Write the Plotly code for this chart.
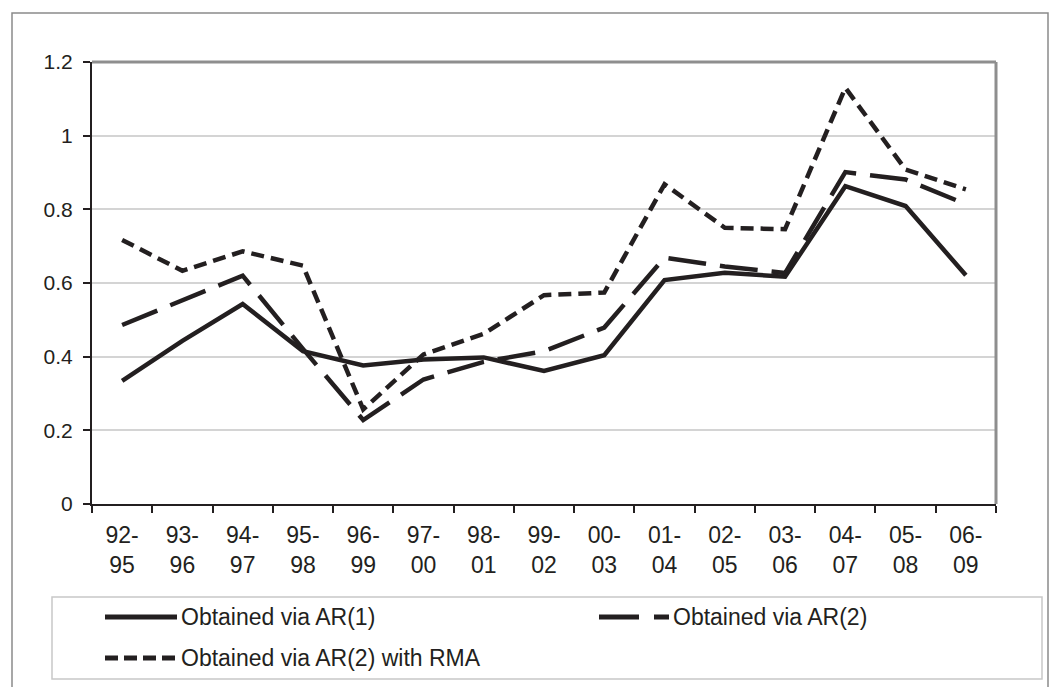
import plotly.graph_objects as go

periods = ["92-95", "93-96", "94-97", "95-98", "96-99", "97-00", "98-01", "99-02",
           "00-03", "01-04", "02-05", "03-06", "04-07", "05-08", "06-09"]
tick_text = [p.replace("-", "-<br>") for p in periods]

ar1 = [0.334, 0.443, 0.543, 0.415, 0.376, 0.392, 0.398, 0.361,
       0.404, 0.608, 0.628, 0.617, 0.863, 0.809, 0.621]
ar2 = [0.486, 0.552, 0.620, 0.421, 0.228, 0.338, 0.386, 0.415,
       0.479, 0.669, 0.645, 0.627, 0.901, 0.881, 0.814]
ar2_rma = [0.717, 0.633, 0.686, 0.647, 0.257, 0.406, 0.462, 0.567,
           0.574, 0.868, 0.750, 0.746, 1.130, 0.908, 0.854]

names = ["Obtained via AR(1)", "Obtained via AR(2)", "Obtained via AR(2) with RMA"]
dashes = ["solid", "38px,14px", "13px,7px"]
legend_dashes = ["solid", "40px,15px", "13px,6px"]

INK = "#231f20"
FONT = "Liberation Sans, Arial, sans-serif"

# page body has an 8px margin, so the figure is drawn that much smaller
OFF = 8
W, H = 1061, 687
# plot area in screen pixels: x 92..996, y 62..504
L, R, T, B = 92, 996, 62, 504


def xp(px):
    return (px - L) / (R - L)


def yp(py):
    return (B - py) / (B - T)


fig = go.Figure()
for name, ys, dash in zip(names, [ar1, ar2, ar2_rma], dashes):
    fig.add_trace(go.Scatter(
        x=periods, y=ys, name=name, mode="lines",
        line=dict(color=INK, width=4.5, dash=dash),
        showlegend=False,
    ))

shapes = [
    # outer chart frame
    dict(type="rect", xref="paper", yref="paper", x0=xp(12), x1=xp(1048),
         y0=yp(700), y1=yp(13), line=dict(color="#8a8a8a", width=1.5)),
    # plot-area top and right border
    dict(type="line", xref="paper", yref="paper", x0=0, x1=1, y0=1, y1=1,
         line=dict(color="#8e8e8e", width=3)),
    dict(type="line", xref="paper", yref="paper", x0=1, x1=1, y0=0, y1=1,
         line=dict(color="#8e8e8e", width=3)),
    # legend box
    dict(type="rect", xref="paper", yref="paper", x0=xp(52), x1=xp(1042),
         y0=yp(679), y1=yp(597), line=dict(color="#c8c8c8", width=1.5)),
]

# hand-made legend to match the long symbol samples
legend_items = [(105, 177, 617), (599, 669, 617), (105, 177, 658)]
annotations = []
for (x0, x1, y), name, dash in zip(legend_items, names, legend_dashes):
    shapes.append(dict(type="line", xref="paper", yref="paper",
                       x0=xp(x0), x1=xp(x1), y0=yp(y), y1=yp(y),
                       line=dict(color=INK, width=5, dash=dash)))
    annotations.append(dict(xref="paper", yref="paper", x=xp(x1 + 2), y=yp(y),
                            xanchor="left", yanchor="middle", showarrow=False,
                            text=name, font=dict(size=23, color=INK, family=FONT)))

fig.update_layout(
    width=W - OFF, height=H - OFF,
    margin=dict(l=L - OFF, r=W - R, t=T - OFF, b=H - B),
    paper_bgcolor="white", plot_bgcolor="white",
    font=dict(family=FONT, color=INK),
    shapes=shapes, annotations=annotations,
    xaxis=dict(
        type="category", tickmode="array", tickvals=periods, ticktext=tick_text,
        tickson="boundaries", ticks="outside", ticklen=7, tickwidth=1.5, tickcolor=INK,
        showline=True, linecolor=INK, linewidth=2, showgrid=False,
        tickfont=dict(size=23, color=INK), range=[-0.5, 14.5],
        ticklabelstandoff=9,
    ),
    yaxis=dict(
        range=[0, 1.2], dtick=0.2, tick0=0, ticks="outside", ticklen=7,
        tickwidth=1.5, tickcolor=INK, showline=True, linecolor=INK, linewidth=2,
        showgrid=True, gridcolor="#d4d4d4", gridwidth=1.5, zeroline=False,
        tickfont=dict(size=21, color=INK), ticklabelstandoff=6,
    ),
)

fig.write_html("out.html")
